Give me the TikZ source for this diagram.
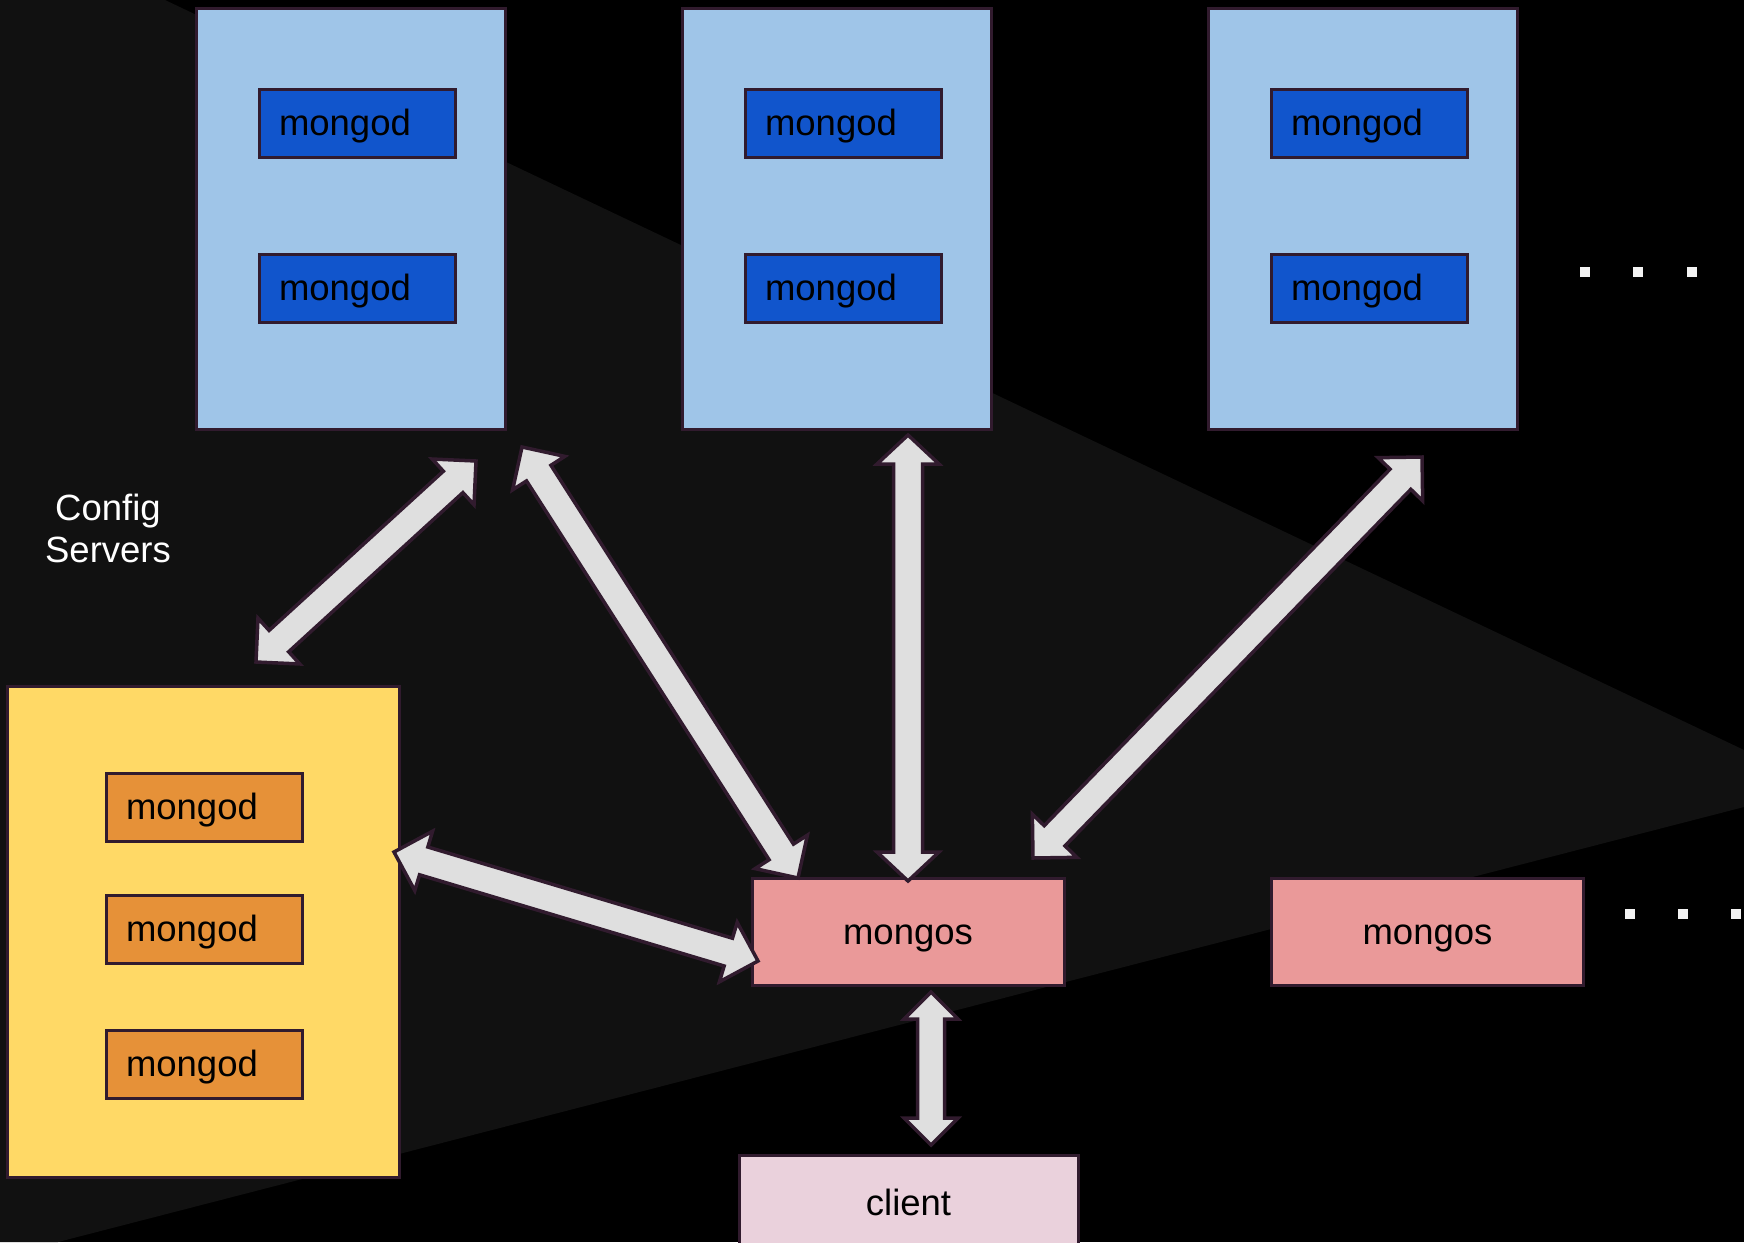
\documentclass[tikz,border=0pt]{standalone}
\usepackage{fontspec}
\setmainfont{Liberation Sans}
\usetikzlibrary{calc}
\definecolor{outl}{HTML}{311B2E}
\definecolor{darkbg}{HTML}{111111}
\definecolor{shardblue}{HTML}{9FC5E8}
\definecolor{innerblue}{HTML}{1155CC}
\definecolor{cfgyellow}{HTML}{FFD966}
\definecolor{cfgorange}{HTML}{E69138}
\definecolor{mongospink}{HTML}{EA9999}
\definecolor{clientpink}{HTML}{EAD1DC}
\definecolor{arrowgray}{HTML}{DFDFDF}
\definecolor{dotwhite}{HTML}{F3F3F3}
\newcommand\dfont{\fontsize{36.5}{42}\selectfont}
% double block arrow between two named tips: #3 head length, #4 head half width, #5 shaft half width
\newcommand\dblarrow[5]{%
  \coordinate (hA) at ($(#1)!#3!(#2)$);
  \coordinate (hB) at ($(#2)!#3!(#1)$);
  \draw[blockarrow] (#1) -- ($(hA)!#4!90:(#2)$) -- ($(hA)!#5!90:(#2)$)
    -- ($(hB)!#5!-90:(#1)$) -- ($(hB)!#4!-90:(#1)$) -- (#2)
    -- ($(hB)!#4!90:(#1)$) -- ($(hB)!#5!90:(#1)$)
    -- ($(hA)!#5!-90:(#2)$) -- ($(hA)!#4!-90:(#2)$) -- cycle;
}
\tikzset{
  box/.style={draw=outl, line width=3pt, inner sep=0pt, font=\dfont, text=black},
  shard/.style={box, fill=shardblue, minimum width=309pt, minimum height=421pt},
  inbox/.style={box, minimum width=196pt, minimum height=68pt, inner xsep=20pt, inner ysep=0pt,
    text width=156pt, align=left, text height=26pt, text depth=2pt},
  mblue/.style={inbox, fill=innerblue},
  morange/.style={inbox, fill=cfgorange},
  router/.style={box, fill=mongospink, minimum width=312pt, minimum height=107pt, text height=26pt, text depth=1pt},
  blockarrow/.style={draw=outl, line width=3.5pt, fill=arrowgray, line join=miter},
  dot/.style={fill=dotwhite, minimum size=10pt, inner sep=0pt}
}
\begin{document}
\begin{tikzpicture}[x=1pt,y=-1pt]
\useasboundingbox (0,0) rectangle (1744,1242);
\clip (0,0) rectangle (1744,1242);
\fill[black] (0,0) rectangle (1744,1242);
\fill[darkbg] (0,0) -- (165,0) -- (1744,750) -- (1744,807) -- (58,1242) -- (0,1242) -- cycle;

% shards
\node[shard] (s1) at (350.5,218.5) {};
\node[shard] (s2) at (836.5,218.5) {};
\node[shard] (s3) at (1362.5,218.5) {};
\node[mblue] (s1a) at (357,123) {mongod};
\node[mblue] (s1b) at (357,288.5) {mongod};
\node[mblue] (s2a) at (843,123) {mongod};
\node[mblue] (s2b) at (843,288.5) {mongod};
\node[mblue] (s3a) at (1369,123) {mongod};
\node[mblue] (s3b) at (1369,288.5) {mongod};

% dots
\node[dot] (d1) at (1585,272) {};
\node[dot] (d2) at (1638,272) {};
\node[dot] (d3) at (1692,272) {};
\node[dot] (d4) at (1630,914) {};
\node[dot] (d5) at (1683,914) {};
\node[dot] (d6) at (1736,914) {};

% config servers
\node[text=white, font=\dfont, align=center, inner sep=0pt] (cfglabel) at (108,528) {Config\\Servers};
\node[box, fill=cfgyellow, minimum width=392pt, minimum height=491pt] (cfg) at (203,931.5) {};
\node[morange] (c1) at (204,807) {mongod};
\node[morange] (c2) at (204,929) {mongod};
\node[morange] (c3) at (204,1064) {mongod};

% routers and client
\node[router] (ms1) at (908,932) {mongos};
\node[router] (ms2) at (1427.5,932) {mongos};
\node[box, fill=clientpink, minimum width=339pt, minimum height=95pt, text height=26pt, text depth=1pt] (client) at (908.5,1202.5) {client};

% arrow tips
\coordinate (a1s) at (256,662);  \coordinate (a1e) at (476,461);
\coordinate (a2s) at (522,447);  \coordinate (a2e) at (798,878);
\coordinate (a3s) at (908,435);  \coordinate (a3e) at (908,881);
\coordinate (a4s) at (1422,457); \coordinate (a4e) at (1033,858);
\coordinate (a5s) at (394,852);  \coordinate (a5e) at (758,961);
\coordinate (a6s) at (931,992);  \coordinate (a6e) at (931,1145);

\dblarrow{a1s}{a1e}{31pt}{31pt}{14.5pt}
\dblarrow{a2s}{a2e}{31pt}{31pt}{14.5pt}
\dblarrow{a3s}{a3e}{29pt}{31pt}{14.5pt}
\dblarrow{a4s}{a4e}{31pt}{31pt}{14.5pt}
\dblarrow{a5s}{a5e}{31pt}{31pt}{14.5pt}
\dblarrow{a6s}{a6e}{27pt}{27pt}{13.5pt}
\end{tikzpicture}
\end{document}
